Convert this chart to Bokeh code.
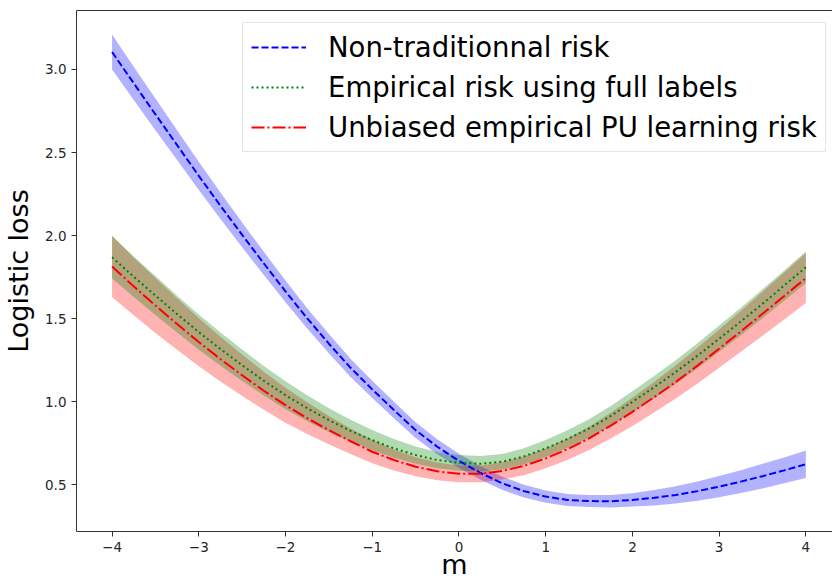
from bokeh.plotting import figure
from bokeh.models import ColumnDataSource, FixedTicker, Legend, LegendItem, LinearAxis
from bokeh.embed import file_html
from bokeh.resources import INLINE

# ---- data ----
m_values = [-4.0, -3.75, -3.5, -3.25, -3.0, -2.75, -2.5, -2.25, -2.0, -1.75, -1.5, -1.25, -1.0, -0.75, -0.5, -0.25,
            0.0, 0.25, 0.5, 0.75, 1.0, 1.25, 1.5, 1.75, 2.0, 2.25, 2.5, 2.75, 3.0, 3.25, 3.5, 3.75, 4.0]

nontrad_mean = [3.105, 2.917, 2.73, 2.545, 2.36, 2.18, 2.005, 1.833, 1.665, 1.503, 1.35, 1.205, 1.075, 0.951, 0.83, 0.73,
                0.645, 0.572, 0.51, 0.463, 0.43, 0.41, 0.403, 0.402, 0.41, 0.423, 0.44, 0.463, 0.49, 0.52, 0.553, 0.588, 0.625]
nontrad_std = [0.105, 0.100, 0.095, 0.090, 0.085, 0.080, 0.075, 0.070, 0.065, 0.061, 0.058, 0.055, 0.052, 0.049, 0.047, 0.045,
               0.043, 0.041, 0.040, 0.038, 0.037, 0.036, 0.036, 0.038, 0.040, 0.046, 0.052, 0.058, 0.064, 0.069, 0.074, 0.078, 0.083]

full_mean = [1.87, 1.753, 1.64, 1.528, 1.42, 1.318, 1.22, 1.127, 1.04, 0.962, 0.89, 0.826, 0.77, 0.72, 0.68, 0.65,
             0.633, 0.628, 0.64, 0.672, 0.72, 0.776, 0.84, 0.915, 1.00, 1.088, 1.18, 1.278, 1.38, 1.484, 1.59, 1.70, 1.81]
full_std = [0.128, 0.122, 0.117, 0.111, 0.106, 0.100, 0.095, 0.089, 0.084, 0.078, 0.072, 0.066, 0.061, 0.056, 0.052, 0.049,
            0.047, 0.046, 0.047, 0.049, 0.051, 0.053, 0.056, 0.060, 0.064, 0.067, 0.071, 0.075, 0.079, 0.083, 0.087, 0.091, 0.095]

pu_mean = [1.815, 1.695, 1.58, 1.468, 1.36, 1.257, 1.16, 1.067, 0.98, 0.902, 0.83, 0.763, 0.70, 0.65, 0.61, 0.582,
           0.567, 0.567, 0.585, 0.615, 0.66, 0.715, 0.78, 0.857, 0.94, 1.028, 1.12, 1.218, 1.32, 1.424, 1.53, 1.637, 1.745]
pu_std = [0.184, 0.174, 0.165, 0.155, 0.145, 0.135, 0.125, 0.115, 0.105, 0.095, 0.085, 0.077, 0.070, 0.063, 0.057, 0.053,
          0.050, 0.050, 0.052, 0.056, 0.060, 0.065, 0.070, 0.077, 0.085, 0.092, 0.100, 0.107, 0.115, 0.123, 0.132, 0.141, 0.150]

x_ticks = [-4, -3, -2, -1, 0, 1, 2, 3, 4]
x_tick_labels = ["\u22124", "\u22123", "\u22122", "\u22121", "0", "1", "2", "3", "4"]
y_ticks = [0.5, 1.0, 1.5, 2.0, 2.5, 3.0]
y_tick_labels = ["0.5", "1.0", "1.5", "2.0", "2.5", "3.0"]

series_names = ["Non-traditionnal risk", "Empirical risk using full labels", "Unbiased empirical PU learning risk"]
x_label = "m"
y_label = "Logistic loss"

# ---- sources ----
def band_source(mean, std):
    return ColumnDataSource(dict(
        x=m_values,
        y=mean,
        lo=[a - b for a, b in zip(mean, std)],
        hi=[a + b for a, b in zip(mean, std)],
    ))

src_nt = band_source(nontrad_mean, nontrad_std)
src_full = band_source(full_mean, full_std)
src_pu = band_source(pu_mean, pu_std)

FONT = "DejaVu Sans"
SPINE = "#333333"

p = figure(width=832, height=583, x_range=(-4.41, 4.307), y_range=(0.22, 3.355),
           output_backend="svg", toolbar_location=None,
           min_border_left=74, min_border_right=0, min_border_top=10, min_border_bottom=52)

p.background_fill_color = "white"
p.border_fill_color = "white"
p.xgrid.visible = False
p.ygrid.visible = False
p.outline_line_color = None

x_ax = p.below[0]
y_ax = p.left[0]

# top spine only (no ticks, no labels)
top_axis = LinearAxis(ticker=FixedTicker(ticks=[]), axis_line_color=SPINE,
                      major_tick_out=0, major_tick_in=0, minor_tick_out=0, minor_tick_in=0,
                      major_label_standoff=0)
p.add_layout(top_axis, "above")

# bands
p.varea(x="x", y1="lo", y2="hi", source=src_nt, fill_color="#0000ff", fill_alpha=0.3)
p.varea(x="x", y1="lo", y2="hi", source=src_pu, fill_color="#ff0000", fill_alpha=0.3)
p.varea(x="x", y1="lo", y2="hi", source=src_full, fill_color="#008000", fill_alpha=0.3)

# lines
r_nt = p.line("x", "y", source=src_nt, line_color="#0000ff", line_width=2, line_dash="7 3")
r_full = p.line("x", "y", source=src_full, line_color="#008000", line_width=2, line_dash="2 3")
r_pu = p.line("x", "y", source=src_pu, line_color="#ff0000", line_width=2, line_dash="13 3 2 3")

# axes
for ax in (x_ax, y_ax):
    ax.major_tick_in = 0
    ax.major_tick_out = 5
    ax.minor_tick_in = 0
    ax.minor_tick_out = 0
    ax.axis_line_color = SPINE
    ax.major_tick_line_color = SPINE
    ax.major_label_text_font = FONT
    ax.major_label_text_font_size = "13.5px"
    ax.major_label_text_color = "#262626"
    ax.axis_label_text_font = FONT
    ax.axis_label_text_font_size = "27px"
    ax.axis_label_text_font_style = "normal"
    ax.axis_label_text_color = "black"
    ax.major_label_standoff = 5

x_ax.ticker = FixedTicker(ticks=x_ticks)
x_ax.major_label_overrides = {t: l for t, l in zip(x_ticks, x_tick_labels)}
y_ax.ticker = FixedTicker(ticks=y_ticks)
y_ax.major_label_overrides = {t: l for t, l in zip(y_ticks, y_tick_labels)}
x_ax.axis_label = x_label
x_ax.axis_label_standoff = -6
y_ax.axis_label = y_label
y_ax.axis_label_standoff = 8

legend = Legend(items=[
    LegendItem(label=series_names[0], renderers=[r_nt]),
    LegendItem(label=series_names[1], renderers=[r_full]),
    LegendItem(label=series_names[2], renderers=[r_pu]),
], location=(166, 379))
legend.label_text_font = FONT
legend.label_text_font_size = "27.5px"
legend.label_text_color = "black"
legend.glyph_width = 55
legend.glyph_height = 30
legend.label_height = 30
legend.label_standoff = 22
legend.spacing = 8
legend.padding = 8
legend.margin = 0
legend.border_line_color = "#cccccc"
legend.border_line_width = 1
legend.background_fill_color = "white"
legend.background_fill_alpha = 0.8
p.add_layout(legend, "center")

open("out.html", "w").write(file_html(p, INLINE))
